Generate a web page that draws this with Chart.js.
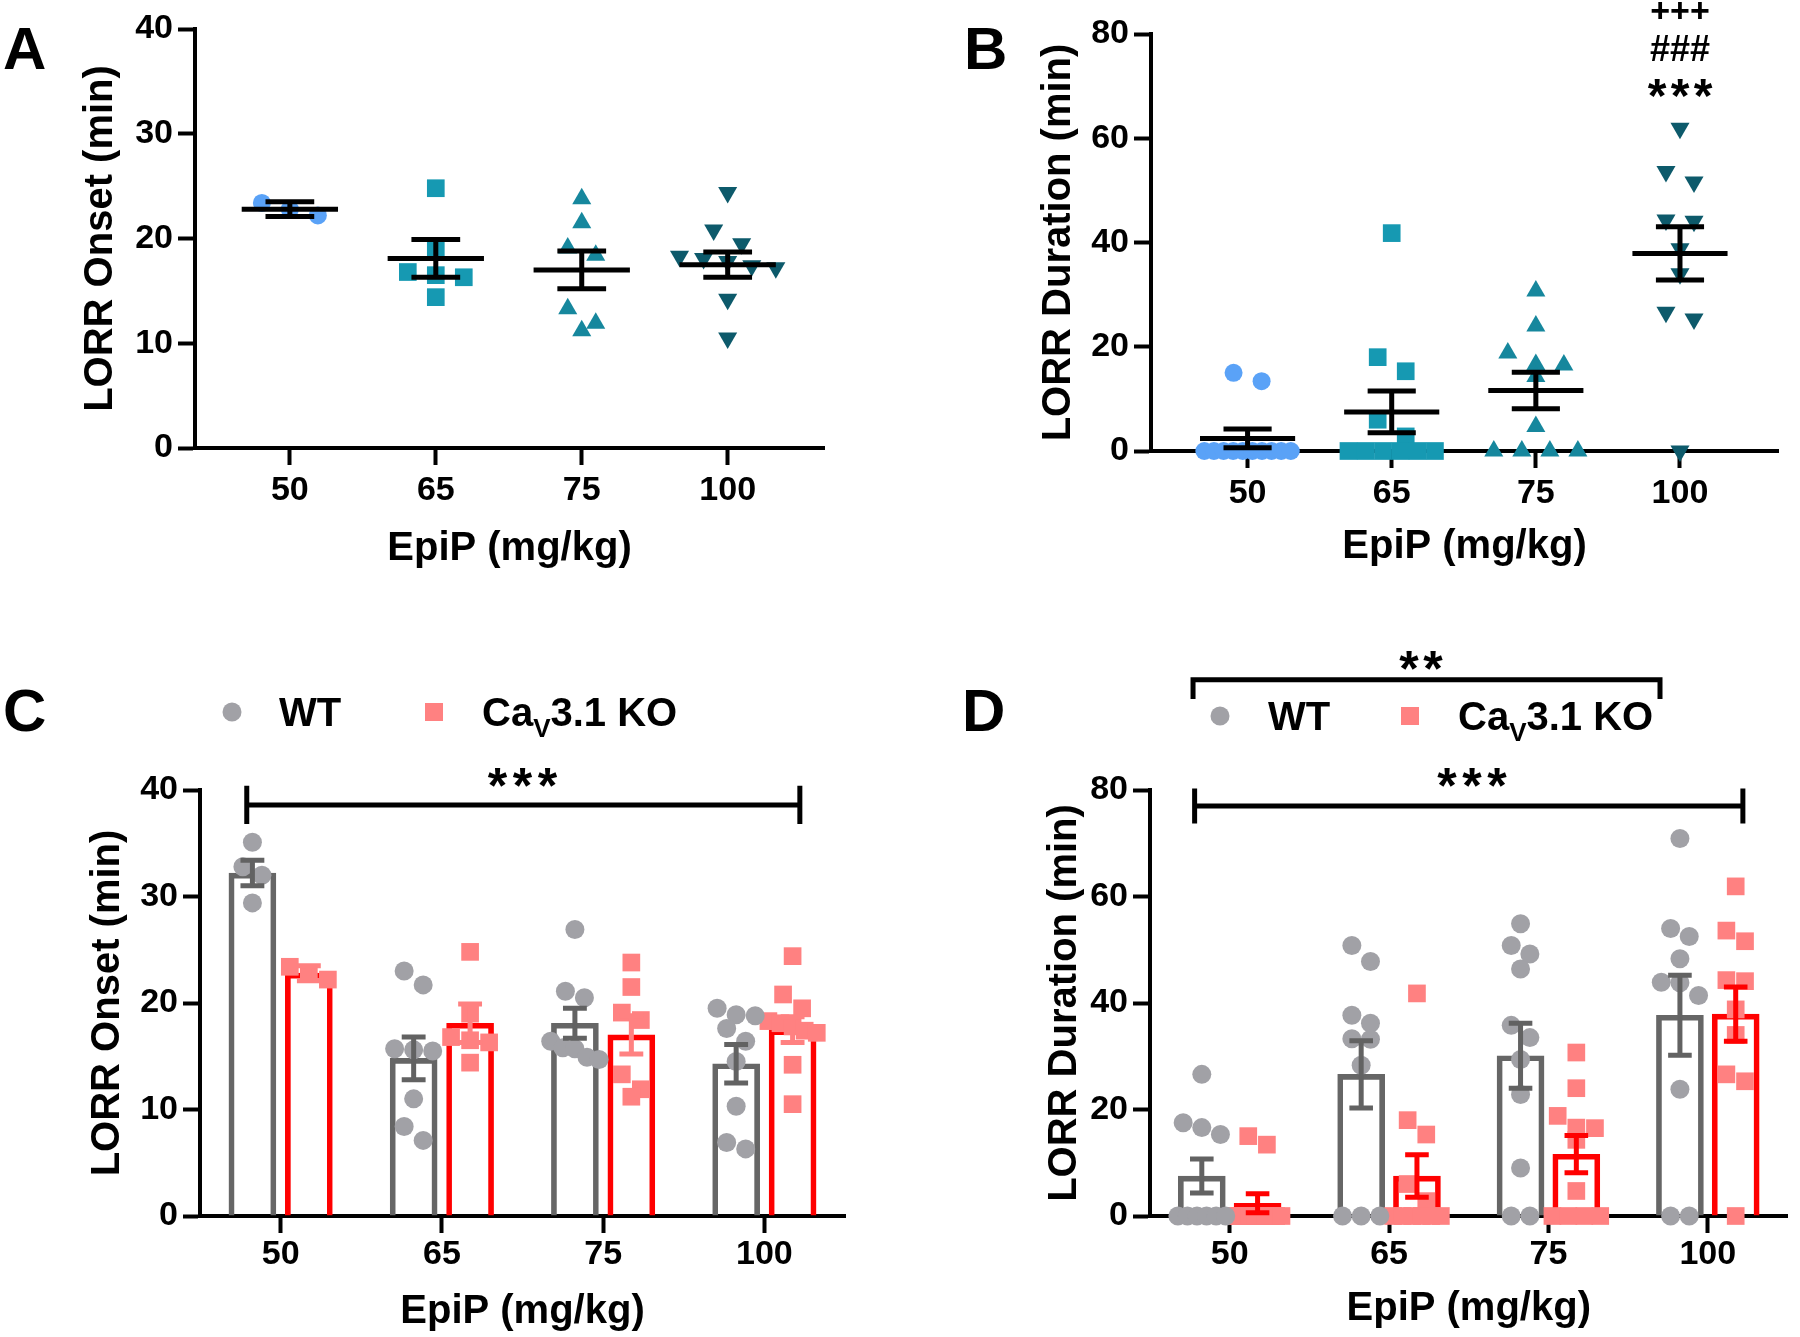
<!DOCTYPE html>
<html>
<head>
<meta charset="utf-8">
<title>LORR onset and duration</title>
<script src="https://cdn.jsdelivr.net/npm/chart.js@4.4.1/dist/chart.umd.min.js"></script>
<style>
  body { margin: 0; background: #fff; }
  #figure { position: relative; width: 1800px; height: 1337px; overflow: hidden; background: #fff; }
  .panel { position: absolute; }
</style>
</head>
<body>
<div id="figure">
  <div class="panel" style="left:0;top:0;width:900px;height:600px"><canvas id="panelA"></canvas></div>
  <div class="panel" style="left:900px;top:0;width:900px;height:600px"><canvas id="panelB"></canvas></div>
  <div class="panel" style="left:0;top:600px;width:900px;height:737px"><canvas id="panelC"></canvas></div>
  <div class="panel" style="left:900px;top:600px;width:900px;height:737px"><canvas id="panelD"></canvas></div>
</div>
<script>
const doses = ['50', '65', '75', '100'];
const onsetTicks = [0, 10, 20, 30, 40];
const durationTicks = [0, 20, 40, 60, 80];

// LORR onset (min), CaV3.1 KO  -> panel A and red bars of panel C
const koOnset50 = [23.4, 22.8, 22.2];
const koOnset65 = [24.8, 19.0, 16.8, 16.5, 16.3, 14.4];
const koOnset75 = [23.8, 21.5, 19.1, 18.4, 13.3, 11.9, 11.2];
const koOnset100 = [24.4, 20.8, 19.5, 18.3, 18.1, 17.8, 17.4, 17.2, 14.2, 10.5];
const koOnsetMean = [22.8, 18.1, 17.0, 17.5];
const koOnsetSem = [0.7, 1.8, 1.8, 1.2];

// LORR onset (min), WT -> grey bars of panel C
const wtOnset50 = [35.1, 32.8, 32.0, 29.4];
const wtOnset65 = [23.0, 21.7, 15.7, 15.6, 15.5, 11.0, 8.4, 7.1];
const wtOnset75 = [26.9, 21.1, 20.5, 16.4, 15.8, 15.7, 14.9, 14.7];
const wtOnset100 = [19.5, 18.9, 18.8, 17.6, 16.4, 14.5, 10.3, 6.9, 6.3];
const wtOnsetMean = [32.2, 14.8, 18.1, 14.3];
const wtOnsetSem = [1.2, 2.0, 1.4, 1.8];

// LORR duration (min), CaV3.1 KO -> panel B and red bars of panel D
const koDur50 = [15.0, 13.4, 0, 0, 0, 0, 0, 0, 0, 0, 0, 0];
const koDur65 = [41.8, 18.0, 15.3, 6.0, 2.8, 0, 0, 0, 0, 0, 0];
const koDur75 = [30.7, 24.0, 18.8, 16.6, 16.5, 14.3, 4.7, 0, 0, 0, 0];
const koDur100 = [61.9, 53.6, 51.6, 44.3, 44.1, 38.8, 34.0, 26.6, 25.3, 0];
const koDurMean = [2.4, 7.5, 11.6, 37.9];
const koDurSem = [1.8, 4.0, 3.5, 5.1];

// LORR duration (min), WT -> grey bars of panel D
const wtDur50 = [26.6, 17.5, 16.6, 15.3, 0, 0, 0, 0, 0, 0];
const wtDur65 = [50.8, 47.8, 37.7, 36.2, 33.3, 33.2, 28.3, 0, 0, 0];
const wtDur75 = [54.9, 50.8, 49.2, 46.4, 35.8, 33.5, 29.4, 22.8, 9.0, 0, 0];
const wtDur100 = [70.9, 54.0, 52.5, 48.3, 43.9, 43.8, 41.4, 23.8, 0, 0];
const wtDurMean = [7.5, 26.6, 30.1, 37.7];
const wtDurSem = [3.2, 6.3, 6.1, 7.5];

const koOnset = [koOnset50, koOnset65, koOnset75, koOnset100];
const wtOnset = [wtOnset50, wtOnset65, wtOnset75, wtOnset100];
const koDuration = [koDur50, koDur65, koDur75, koDur100];
const wtDuration = [wtDur50, wtDur65, wtDur75, wtDur100];

const FONT = '"Liberation Sans", Arial, sans-serif';
const WT_BAR = '#666666', WT_DOT = '#a1a1a6', WT_ERR = '#626262';
const KO_BAR = '#ff0000', KO_DOT = '#ff8181';
const BAR_SHIFT = 0.175;   // WT bar left of the dose tick, KO bar right of it

// markers for the dose groups in A and B
const doseMarkers = [
    {style: 'circle', radius: 9, rotation: 0, color: '#5aa2f7'},
    {style: 'rect', radius: 12.5, rotation: 0, color: '#1699b2'},
    {style: 'triangle', radius: 11, rotation: 0, color: '#16879d'},
    {style: 'triangle', radius: 11, rotation: 180, color: '#0d5a6b'}
];

Chart.defaults.font.family = FONT;
Chart.defaults.font.weight = 'bold';
Chart.defaults.color = '#000';
Chart.defaults.animation = false;
Chart.defaults.events = [];
Chart.defaults.maintainAspectRatio = false;
Chart.defaults.plugins.legend.display = false;
Chart.defaults.plugins.tooltip.enabled = false;

// spread points that sit at similar heights sideways, like a column scatter
function swarm(values, center, o) {
    let order = values.map((v, i) => i).sort((a, b) => values[b] - values[a]);
    let pts = [];
    let i = 0;
    while (i < order.length) {
        let start = values[order[i]];
        let group = [order[i]];
        let j = i + 1;
        while (j < order.length && (start - values[order[j]]) * o.pxY < o.size) {
            group.push(order[j]);
            j++;
        }
        let n = group.length;
        let step = o.gap / o.pxX;
        if (n > 1 && (n - 1) * step / 2 > o.maxHalf) step = 2 * o.maxHalf / (n - 1);
        group.forEach((k, m) => pts.push({x: center + (m - (n - 1) / 2) * step, y: values[k]}));
        i = j;
    }
    return pts;
}

function axisLook() {
    return {
        offset: false,
        grid: {drawOnChartArea: false, drawTicks: true, tickLength: 17, tickWidth: 4, tickColor: '#000', offset: false},
        border: {display: true, color: '#000', width: 4}
    };
}

function valueAxis(ticks, text, titleLeft, width) {
    return Object.assign(axisLook(), {
        type: 'linear',
        min: ticks[0],
        max: ticks[ticks.length - 1],
        afterBuildTicks: (s) => { s.ticks = ticks.map((v) => ({value: v})); },
        ticks: {padding: 5, font: {size: 34, weight: 'bold'}},
        title: {display: true, text: text, color: '#000', font: {size: 40, weight: 'bold'}, padding: {top: titleLeft, bottom: 0}},
        afterFit: (s) => { s.width = width; }
    });
}

// dose axis: linear, dose i sits at first + i
function doseAxis(min, max, first, height, titleBottom, labelPad) {
    return Object.assign(axisLook(), {
        type: 'linear',
        min: min,
        max: max,
        afterBuildTicks: (s) => { s.ticks = doses.map((d, i) => ({value: first + i})); },
        ticks: {padding: labelPad, autoSkip: false, maxRotation: 0, font: {size: 34, weight: 'bold'},
            callback: (v) => doses[Math.round(v - first)]},
        title: {display: true, text: 'EpiP (mg/kg)', color: '#000', font: {size: 40, weight: 'bold'}, padding: {top: 0, bottom: titleBottom}},
        afterFit: (s) => { s.height = height; }
    });
}

function doseScatter(groups, spread) {
    return groups.map((vals, i) => ({
        label: doses[i],
        data: swarm(vals, i + 1, spread),
        pointStyle: doseMarkers[i].style,
        pointRadius: doseMarkers[i].radius,
        pointRotation: doseMarkers[i].rotation,
        pointBackgroundColor: doseMarkers[i].color,
        pointBorderColor: doseMarkers[i].color,
        pointBorderWidth: 0,
        clip: false
    }));
}

function barSet(label, means, shift, color) {
    return {
        type: 'bar', label: label, order: 2, grouped: false,
        data: means.map((m, i) => ({x: i + shift, y: m})),
        backgroundColor: 'rgba(255,255,255,0)', borderColor: color, borderWidth: 5, borderSkipped: 'start',
        barPercentage: 1, categoryPercentage: 1, maxBarThickness: 47
    };
}

function pointSet(label, groups, shift, shape, radius, color, spread) {
    return {
        type: 'scatter', label: label, order: 1, clip: false, grouped: false,
        data: groups.flatMap((vals, i) => swarm(vals, i + shift, spread)),
        pointStyle: shape, pointRadius: radius,
        pointBackgroundColor: color, pointBorderColor: color, pointBorderWidth: 0
    };
}

function shifted(shift) {
    return doses.map((d, i) => i + shift);
}

// extra drawing per canvas: error bars, panel letters, legends, significance marks
const decor = {
    panelA: {
        letter: {text: 'A', x: 3, y: 69},
        errors: [{mean: koOnsetMean, sem: koOnsetSem, at: shifted(1), cap: 0.167, line: 0.33, color: '#000', width: 5}]
    },
    panelB: {
        letter: {text: 'B', x: 64, y: 69},
        errors: [{mean: koDurMean, sem: koDurSem, at: shifted(1), cap: 0.167, line: 0.33, color: '#000', width: 5}],
        notes: [
            {text: '***', x: 4, y: 69.6, size: 48, step: 23},
            {text: '###', x: 4, y: 77.3, size: 36},
            {text: '+++', x: 4, y: 84.6, size: 34}
        ]
    },
    panelC: {
        letter: {text: 'C', x: 3, y: 131},
        errors: [
            {mean: wtOnsetMean, sem: wtOnsetSem, at: shifted(-BAR_SHIFT), cap: 0.074, color: WT_ERR, width: 5},
            {mean: koOnsetMean, sem: koOnsetSem, at: shifted(BAR_SHIFT), cap: 0.074, color: KO_DOT, width: 5}
        ],
        brackets: [{x1: -0.21, x2: 3.22, y: 38.6, up: 1.8, down: 1.8}],
        notes: [{text: '***', x: 1.5, y: 41.2, size: 50, step: 25}],
        legend: {y: 112, circleX: 232, wtX: 279, squareX: 434, koX: 482}
    },
    panelD: {
        letter: {text: 'D', x: 62, y: 131},
        errors: [
            {mean: wtDurMean, sem: wtDurSem, at: shifted(-BAR_SHIFT), cap: 0.074, color: WT_ERR, width: 5},
            {mean: koDurMean, sem: koDurSem, at: shifted(BAR_SHIFT), cap: 0.074, color: KO_BAR, width: 5}
        ],
        brackets: [
            {x1: -0.22, x2: 3.22, y: 77.0, up: 3.3, down: 3.3},
            {x1: -0.23, x2: 2.70, y: 100.7, up: 0, down: 3.6}
        ],
        notes: [
            {text: '***', x: 1.52, y: 82.3, size: 50, step: 25},
            {text: '**', x: 1.2, y: 104.4, size: 50, step: 24}
        ],
        legend: {y: 116, circleX: 320, wtX: 368, squareX: 510, koX: 558}
    }
};

function inkText(ctx, text, cx, cy, size, step) {
    ctx.font = 'bold ' + size + 'px ' + FONT;
    ctx.textAlign = 'center';
    ctx.textBaseline = 'alphabetic';
    let m = ctx.measureText(text);
    let base = cy + (m.actualBoundingBoxAscent - m.actualBoundingBoxDescent) / 2;
    let chars = text.split('');
    let s = step || ctx.measureText(chars[0]).width;
    chars.forEach((c, k) => ctx.fillText(c, cx + (k - (chars.length - 1) / 2) * s, base));
}

function drawLegend(ctx, L) {
    ctx.fillStyle = WT_DOT;
    ctx.beginPath();
    ctx.arc(L.circleX, L.y, 9.5, 0, Math.PI * 2);
    ctx.fill();
    ctx.fillStyle = KO_DOT;
    ctx.fillRect(L.squareX - 9, L.y - 9, 18, 18);

    ctx.fillStyle = '#000';
    ctx.textAlign = 'left';
    ctx.textBaseline = 'alphabetic';
    ctx.font = 'bold 40px ' + FONT;
    let base = L.y + ctx.measureText('WT').actualBoundingBoxAscent / 2;
    ctx.fillText('WT', L.wtX, base);
    ctx.fillText('Ca', L.koX, base);
    let x = L.koX + ctx.measureText('Ca').width;
    ctx.font = 'bold 26px ' + FONT;
    ctx.fillText('V', x, base + 11);
    x += ctx.measureText('V').width;
    ctx.font = 'bold 40px ' + FONT;
    ctx.fillText('3.1 KO', x, base);
}

const decorPlugin = {
    id: 'decor',
    afterDatasetsDraw(chart) {
        let o = decor[chart.canvas.id];
        let ctx = chart.ctx;
        let xs = chart.scales.x;
        let ys = chart.scales.y;
        let unit = xs.getPixelForValue(1) - xs.getPixelForValue(0);
        ctx.save();
        ctx.lineCap = 'butt';
        (o.errors || []).forEach((e) => {
            ctx.strokeStyle = e.color;
            ctx.lineWidth = e.width;
            e.mean.forEach((m, i) => {
                let x = xs.getPixelForValue(e.at[i]);
                let top = ys.getPixelForValue(m + e.sem[i]);
                let bot = ys.getPixelForValue(m - e.sem[i]);
                let cap = e.cap * unit;
                ctx.beginPath();
                ctx.moveTo(x, top); ctx.lineTo(x, bot);
                ctx.moveTo(x - cap, top); ctx.lineTo(x + cap, top);
                ctx.moveTo(x - cap, bot); ctx.lineTo(x + cap, bot);
                if (e.line) {
                    let y = ys.getPixelForValue(m);
                    ctx.moveTo(x - e.line * unit, y); ctx.lineTo(x + e.line * unit, y);
                }
                ctx.stroke();
            });
        });
        ctx.restore();
    },
    afterDraw(chart) {
        let o = decor[chart.canvas.id];
        let ctx = chart.ctx;
        let xs = chart.scales.x;
        let ys = chart.scales.y;
        ctx.save();
        ctx.fillStyle = '#000';
        ctx.font = 'bold 60px ' + FONT;
        ctx.textAlign = 'left';
        ctx.textBaseline = 'alphabetic';
        ctx.fillText(o.letter.text, o.letter.x, o.letter.y);

        ctx.strokeStyle = '#000';
        ctx.lineWidth = 5;
        (o.brackets || []).forEach((b) => {
            let x1 = xs.getPixelForValue(b.x1), x2 = xs.getPixelForValue(b.x2);
            let y = ys.getPixelForValue(b.y);
            let yt = ys.getPixelForValue(b.y + b.up) - (b.up ? 0 : 2.5);
            let yb = ys.getPixelForValue(b.y - b.down);
            ctx.beginPath();
            ctx.moveTo(x1, y); ctx.lineTo(x2, y);
            ctx.moveTo(x1, yt); ctx.lineTo(x1, yb);
            ctx.moveTo(x2, yt); ctx.lineTo(x2, yb);
            ctx.stroke();
        });
        (o.notes || []).forEach((n) => {
            ctx.fillStyle = '#000';
            inkText(ctx, n.text, xs.getPixelForValue(n.x), ys.getPixelForValue(n.y), n.size, n.step);
        });
        if (o.legend) drawLegend(ctx, o.legend);
        ctx.restore();
    }
};

let charts = {};

charts.A = new Chart(document.getElementById('panelA'), {
    type: 'scatter',
    data: {datasets: doseScatter(koOnset, {pxX: 146, pxY: 10.48, size: 18, gap: 28, maxHalf: 0.33})},
    options: {
        layout: {padding: {left: 0, top: 29, right: 76, bottom: 0}},
        scales: {
            x: doseAxis(0.35, 4.66, 1, 152, 27, 5),
            y: valueAxis(onsetTicks, 'LORR Onset (min)', 77, 195)
        }
    },
    plugins: [decorPlugin]
});

charts.B = new Chart(document.getElementById('panelB'), {
    type: 'scatter',
    data: {datasets: doseScatter(koDuration, {pxX: 144, pxY: 5.21, size: 18, gap: 28, maxHalf: 0.3})},
    options: {
        layout: {padding: {left: 0, top: 34, right: 22, bottom: 0}},
        scales: {
            x: doseAxis(0.33, 4.68, 1, 149, 29, 5),
            y: valueAxis(durationTicks, 'LORR Duration (min)', 135, 251)
        }
    },
    plugins: [decorPlugin]
});

let onsetSpread = {pxX: 161, pxY: 10.65, size: 19, gap: 19, maxHalf: 0.15};
charts.C = new Chart(document.getElementById('panelC'), {
    type: 'bar',
    data: {
        datasets: [
            barSet('WT', wtOnsetMean, -BAR_SHIFT, WT_BAR),
            barSet('CaV3.1 KO', koOnsetMean, BAR_SHIFT, KO_BAR),
            pointSet('WT', wtOnset, -BAR_SHIFT, 'circle', 9.5, WT_DOT, onsetSpread),
            pointSet('CaV3.1 KO', koOnset, BAR_SHIFT, 'rect', 12.5, KO_DOT, onsetSpread)
        ]
    },
    options: {
        layout: {padding: {left: 0, top: 190, right: 55, bottom: 0}},
        scales: {
            x: doseAxis(-0.5, 3.5, 0, 121, 1, 1),
            y: valueAxis(onsetTicks, 'LORR Onset (min)', 84, 200)
        }
    },
    plugins: [decorPlugin]
});

let durationSpread = {pxX: 162.5, pxY: 5.32, size: 19, gap: 19, maxHalf: 0.15};
charts.D = new Chart(document.getElementById('panelD'), {
    type: 'bar',
    data: {
        datasets: [
            barSet('WT', wtDurMean, -BAR_SHIFT, WT_BAR),
            barSet('CaV3.1 KO', koDurMean, BAR_SHIFT, KO_BAR),
            pointSet('WT', wtDuration, -BAR_SHIFT, 'circle', 9.5, WT_DOT, durationSpread),
            pointSet('CaV3.1 KO', koDuration, BAR_SHIFT, 'rect', 12.5, KO_DOT, durationSpread)
        ]
    },
    options: {
        layout: {padding: {left: 0, top: 190, right: 0, bottom: 0}},
        scales: {
            x: doseAxis(-0.5, 3.5, 0, 121, 4, 1),
            y: valueAxis(durationTicks, 'LORR Duration (min)', 141, 250)
        }
    },
    plugins: [decorPlugin]
});
</script>
</body>
</html>
